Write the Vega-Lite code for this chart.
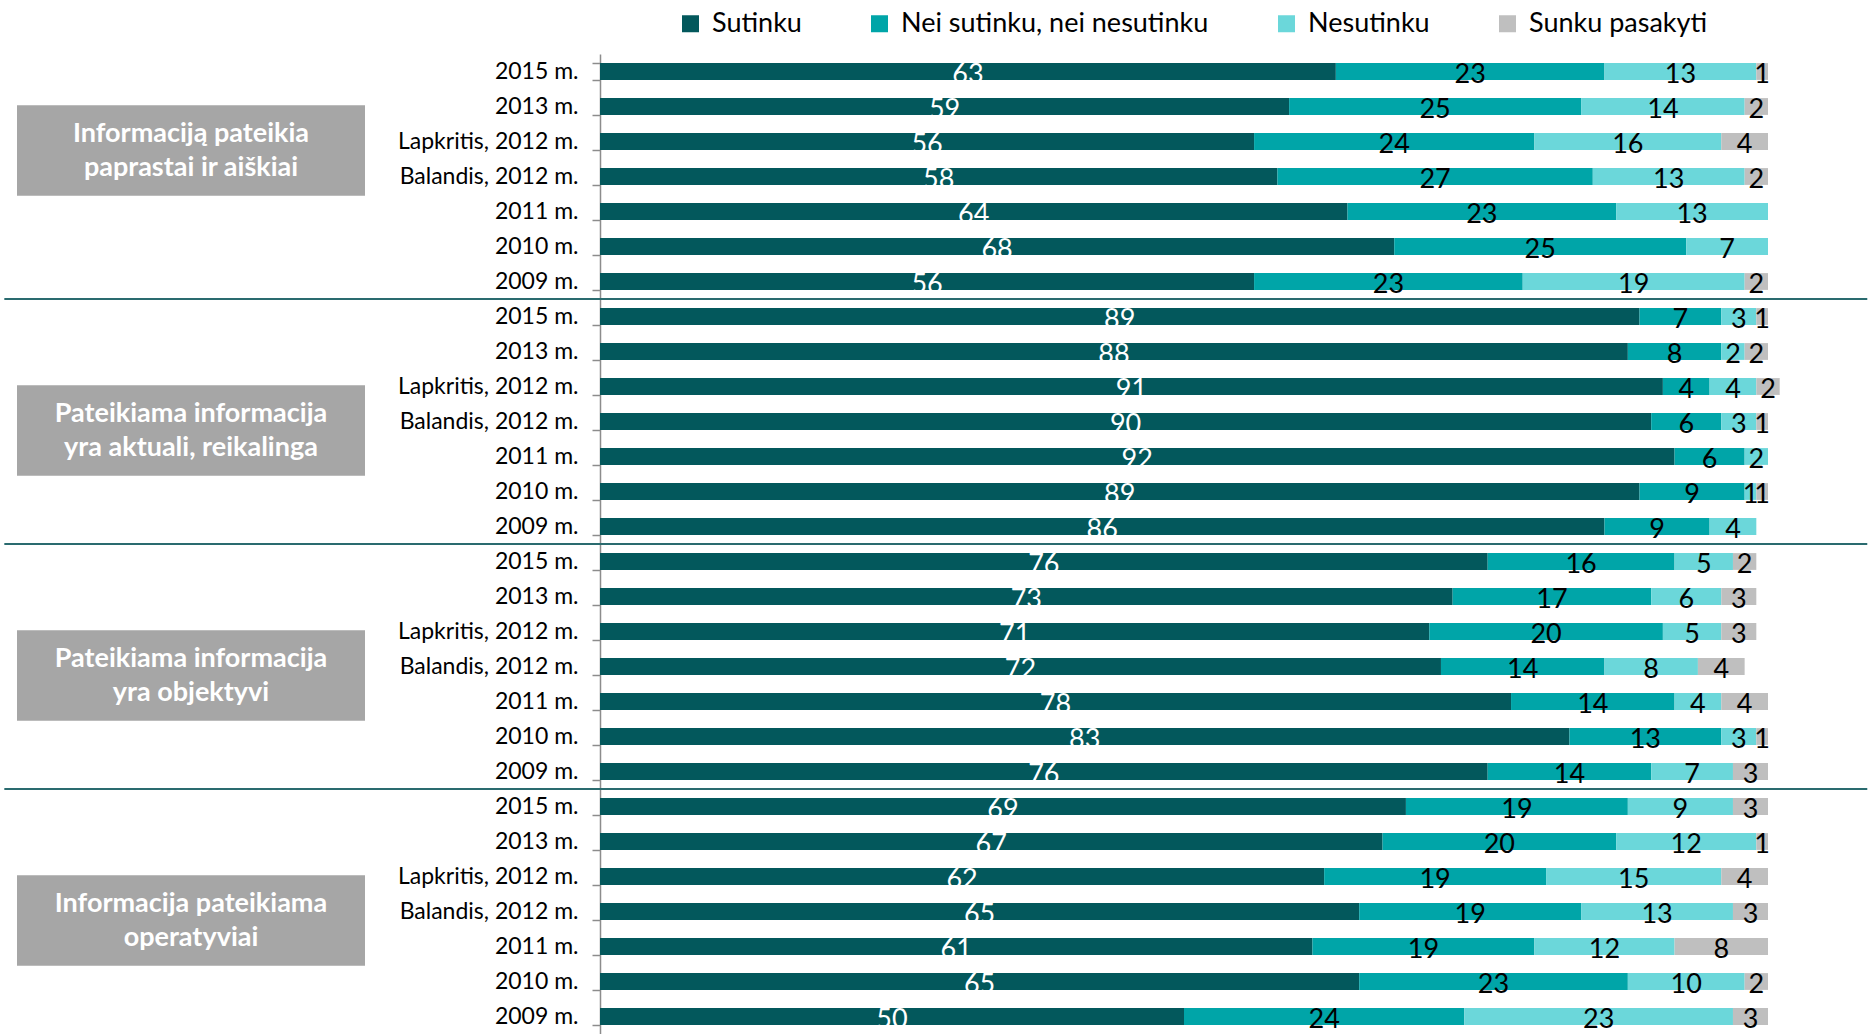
{
  "$schema": "https://vega.github.io/schema/vega-lite/v6.json",
  "padding": {"left": 3, "top": 10, "right": 0, "bottom": 0},
  "bounds": "flush",
  "spacing": 235,
  "config": {"font": "Lato", "view": {"stroke": null}},
  "resolve": {"scale": {"y": "independent", "color": "independent"}, "legend": {"color": "independent"}},
  "datasets": {
    "cats": [
      {"cat": "Sutinku", "k": 1},
      {"cat": "Nei sutinku, nei nesutinku", "k": 2},
      {"cat": "Nesutinku", "k": 3},
      {"cat": "Sunku pasakyti", "k": 4}
    ],
    "rows": [
      {"row": "1|2015 m.", "cat": "Sutinku", "v": 63}, {"row": "1|2015 m.", "cat": "Nei sutinku, nei nesutinku", "v": 23}, {"row": "1|2015 m.", "cat": "Nesutinku", "v": 13}, {"row": "1|2015 m.", "cat": "Sunku pasakyti", "v": 1},
      {"row": "1|2013 m.", "cat": "Sutinku", "v": 59}, {"row": "1|2013 m.", "cat": "Nei sutinku, nei nesutinku", "v": 25}, {"row": "1|2013 m.", "cat": "Nesutinku", "v": 14}, {"row": "1|2013 m.", "cat": "Sunku pasakyti", "v": 2},
      {"row": "1|Lapkritis, 2012 m.", "cat": "Sutinku", "v": 56}, {"row": "1|Lapkritis, 2012 m.", "cat": "Nei sutinku, nei nesutinku", "v": 24}, {"row": "1|Lapkritis, 2012 m.", "cat": "Nesutinku", "v": 16}, {"row": "1|Lapkritis, 2012 m.", "cat": "Sunku pasakyti", "v": 4},
      {"row": "1|Balandis, 2012 m.", "cat": "Sutinku", "v": 58}, {"row": "1|Balandis, 2012 m.", "cat": "Nei sutinku, nei nesutinku", "v": 27}, {"row": "1|Balandis, 2012 m.", "cat": "Nesutinku", "v": 13}, {"row": "1|Balandis, 2012 m.", "cat": "Sunku pasakyti", "v": 2},
      {"row": "1|2011 m.", "cat": "Sutinku", "v": 64}, {"row": "1|2011 m.", "cat": "Nei sutinku, nei nesutinku", "v": 23}, {"row": "1|2011 m.", "cat": "Nesutinku", "v": 13},
      {"row": "1|2010 m.", "cat": "Sutinku", "v": 68}, {"row": "1|2010 m.", "cat": "Nei sutinku, nei nesutinku", "v": 25}, {"row": "1|2010 m.", "cat": "Nesutinku", "v": 7},
      {"row": "1|2009 m.", "cat": "Sutinku", "v": 56}, {"row": "1|2009 m.", "cat": "Nei sutinku, nei nesutinku", "v": 23}, {"row": "1|2009 m.", "cat": "Nesutinku", "v": 19}, {"row": "1|2009 m.", "cat": "Sunku pasakyti", "v": 2},

      {"row": "2|2015 m.", "cat": "Sutinku", "v": 89}, {"row": "2|2015 m.", "cat": "Nei sutinku, nei nesutinku", "v": 7}, {"row": "2|2015 m.", "cat": "Nesutinku", "v": 3}, {"row": "2|2015 m.", "cat": "Sunku pasakyti", "v": 1},
      {"row": "2|2013 m.", "cat": "Sutinku", "v": 88}, {"row": "2|2013 m.", "cat": "Nei sutinku, nei nesutinku", "v": 8}, {"row": "2|2013 m.", "cat": "Nesutinku", "v": 2}, {"row": "2|2013 m.", "cat": "Sunku pasakyti", "v": 2},
      {"row": "2|Lapkritis, 2012 m.", "cat": "Sutinku", "v": 91}, {"row": "2|Lapkritis, 2012 m.", "cat": "Nei sutinku, nei nesutinku", "v": 4}, {"row": "2|Lapkritis, 2012 m.", "cat": "Nesutinku", "v": 4}, {"row": "2|Lapkritis, 2012 m.", "cat": "Sunku pasakyti", "v": 2},
      {"row": "2|Balandis, 2012 m.", "cat": "Sutinku", "v": 90}, {"row": "2|Balandis, 2012 m.", "cat": "Nei sutinku, nei nesutinku", "v": 6}, {"row": "2|Balandis, 2012 m.", "cat": "Nesutinku", "v": 3}, {"row": "2|Balandis, 2012 m.", "cat": "Sunku pasakyti", "v": 1},
      {"row": "2|2011 m.", "cat": "Sutinku", "v": 92}, {"row": "2|2011 m.", "cat": "Nei sutinku, nei nesutinku", "v": 6}, {"row": "2|2011 m.", "cat": "Nesutinku", "v": 2},
      {"row": "2|2010 m.", "cat": "Sutinku", "v": 89}, {"row": "2|2010 m.", "cat": "Nei sutinku, nei nesutinku", "v": 9}, {"row": "2|2010 m.", "cat": "Nesutinku", "v": 1}, {"row": "2|2010 m.", "cat": "Sunku pasakyti", "v": 1},
      {"row": "2|2009 m.", "cat": "Sutinku", "v": 86}, {"row": "2|2009 m.", "cat": "Nei sutinku, nei nesutinku", "v": 9}, {"row": "2|2009 m.", "cat": "Nesutinku", "v": 4},

      {"row": "3|2015 m.", "cat": "Sutinku", "v": 76}, {"row": "3|2015 m.", "cat": "Nei sutinku, nei nesutinku", "v": 16}, {"row": "3|2015 m.", "cat": "Nesutinku", "v": 5}, {"row": "3|2015 m.", "cat": "Sunku pasakyti", "v": 2},
      {"row": "3|2013 m.", "cat": "Sutinku", "v": 73}, {"row": "3|2013 m.", "cat": "Nei sutinku, nei nesutinku", "v": 17}, {"row": "3|2013 m.", "cat": "Nesutinku", "v": 6}, {"row": "3|2013 m.", "cat": "Sunku pasakyti", "v": 3},
      {"row": "3|Lapkritis, 2012 m.", "cat": "Sutinku", "v": 71}, {"row": "3|Lapkritis, 2012 m.", "cat": "Nei sutinku, nei nesutinku", "v": 20}, {"row": "3|Lapkritis, 2012 m.", "cat": "Nesutinku", "v": 5}, {"row": "3|Lapkritis, 2012 m.", "cat": "Sunku pasakyti", "v": 3},
      {"row": "3|Balandis, 2012 m.", "cat": "Sutinku", "v": 72}, {"row": "3|Balandis, 2012 m.", "cat": "Nei sutinku, nei nesutinku", "v": 14}, {"row": "3|Balandis, 2012 m.", "cat": "Nesutinku", "v": 8}, {"row": "3|Balandis, 2012 m.", "cat": "Sunku pasakyti", "v": 4},
      {"row": "3|2011 m.", "cat": "Sutinku", "v": 78}, {"row": "3|2011 m.", "cat": "Nei sutinku, nei nesutinku", "v": 14}, {"row": "3|2011 m.", "cat": "Nesutinku", "v": 4}, {"row": "3|2011 m.", "cat": "Sunku pasakyti", "v": 4},
      {"row": "3|2010 m.", "cat": "Sutinku", "v": 83}, {"row": "3|2010 m.", "cat": "Nei sutinku, nei nesutinku", "v": 13}, {"row": "3|2010 m.", "cat": "Nesutinku", "v": 3}, {"row": "3|2010 m.", "cat": "Sunku pasakyti", "v": 1},
      {"row": "3|2009 m.", "cat": "Sutinku", "v": 76}, {"row": "3|2009 m.", "cat": "Nei sutinku, nei nesutinku", "v": 14}, {"row": "3|2009 m.", "cat": "Nesutinku", "v": 7}, {"row": "3|2009 m.", "cat": "Sunku pasakyti", "v": 3},

      {"row": "4|2015 m.", "cat": "Sutinku", "v": 69}, {"row": "4|2015 m.", "cat": "Nei sutinku, nei nesutinku", "v": 19}, {"row": "4|2015 m.", "cat": "Nesutinku", "v": 9}, {"row": "4|2015 m.", "cat": "Sunku pasakyti", "v": 3},
      {"row": "4|2013 m.", "cat": "Sutinku", "v": 67}, {"row": "4|2013 m.", "cat": "Nei sutinku, nei nesutinku", "v": 20}, {"row": "4|2013 m.", "cat": "Nesutinku", "v": 12}, {"row": "4|2013 m.", "cat": "Sunku pasakyti", "v": 1},
      {"row": "4|Lapkritis, 2012 m.", "cat": "Sutinku", "v": 62}, {"row": "4|Lapkritis, 2012 m.", "cat": "Nei sutinku, nei nesutinku", "v": 19}, {"row": "4|Lapkritis, 2012 m.", "cat": "Nesutinku", "v": 15}, {"row": "4|Lapkritis, 2012 m.", "cat": "Sunku pasakyti", "v": 4},
      {"row": "4|Balandis, 2012 m.", "cat": "Sutinku", "v": 65}, {"row": "4|Balandis, 2012 m.", "cat": "Nei sutinku, nei nesutinku", "v": 19}, {"row": "4|Balandis, 2012 m.", "cat": "Nesutinku", "v": 13}, {"row": "4|Balandis, 2012 m.", "cat": "Sunku pasakyti", "v": 3},
      {"row": "4|2011 m.", "cat": "Sutinku", "v": 61}, {"row": "4|2011 m.", "cat": "Nei sutinku, nei nesutinku", "v": 19}, {"row": "4|2011 m.", "cat": "Nesutinku", "v": 12}, {"row": "4|2011 m.", "cat": "Sunku pasakyti", "v": 8},
      {"row": "4|2010 m.", "cat": "Sutinku", "v": 65}, {"row": "4|2010 m.", "cat": "Nei sutinku, nei nesutinku", "v": 23}, {"row": "4|2010 m.", "cat": "Nesutinku", "v": 10}, {"row": "4|2010 m.", "cat": "Sunku pasakyti", "v": 2},
      {"row": "4|2009 m.", "cat": "Sutinku", "v": 50}, {"row": "4|2009 m.", "cat": "Nei sutinku, nei nesutinku", "v": 24}, {"row": "4|2009 m.", "cat": "Nesutinku", "v": 23}, {"row": "4|2009 m.", "cat": "Sunku pasakyti", "v": 3}
    ],
    "groups": [
      {"label": "Informaciją pateikia\npaprastai ir aiškiai", "at": "1|Lapkritis, 2012 m."},
      {"label": "Pateikiama informacija\nyra aktuali, reikalinga", "at": "2|Balandis, 2012 m."},
      {"label": "Pateikiama informacija\nyra objektyvi", "at": "3|Balandis, 2012 m."},
      {"label": "Informacija pateikiama\noperatyviai", "at": "4|Balandis, 2012 m."}
    ],
    "seps": [
      {"row": "2|2015 m."},
      {"row": "3|2015 m."},
      {"row": "4|2015 m."}
    ]
  },
  "hconcat": [
    {
      "width": 348,
      "height": 980,
      "data": {"name": "groups"},
      "layer": [
        {
          "mark": {"type": "bar", "color": "#a6a6a6", "height": {"band": 5.4}, "yOffset": 9},
          "encoding": {
            "y": {"field": "at", "type": "nominal", "axis": null,
                  "scale": {"domain": ["1|2015 m.","1|2013 m.","1|Lapkritis, 2012 m.","1|Balandis, 2012 m.","1|2011 m.","1|2010 m.","1|2009 m.","2|2015 m.","2|2013 m.","2|Lapkritis, 2012 m.","2|Balandis, 2012 m.","2|2011 m.","2|2010 m.","2|2009 m.","3|2015 m.","3|2013 m.","3|Lapkritis, 2012 m.","3|Balandis, 2012 m.","3|2011 m.","3|2010 m.","3|2009 m.","4|2015 m.","4|2013 m.","4|Lapkritis, 2012 m.","4|Balandis, 2012 m.","4|2011 m.","4|2010 m.","4|2009 m."], "paddingInner": 0.52, "paddingOuter": 0.26}},
            "x": {"datum": 0, "type": "quantitative", "scale": {"domain": [0, 1]}, "axis": null},
            "x2": {"datum": 1}
          }
        },
        {
          "mark": {"type": "text", "color": "#ffffff", "fontWeight": "bold", "fontSize": 27, "lineBreak": "\n", "lineHeight": 34, "yOffset": -8, "align": "center", "baseline": "middle"},
          "encoding": {
            "y": {"field": "at", "type": "nominal"},
            "x": {"datum": 0.5, "type": "quantitative"},
            "text": {"field": "label"}
          }
        }
      ]
    },
    {
      "width": 1168,
      "height": 980,
      "data": {"name": "rows"},
      "resolve": {"scale": {"color": "independent"}},
      "layer": [
        {
          "transform": [{"lookup": "cat", "from": {"data": {"name": "cats"}, "key": "cat", "fields": ["k"]}}],
          "mark": {"type": "bar"},
          "encoding": {
            "y": {"field": "row", "type": "nominal",
                  "scale": {"domain": ["1|2015 m.","1|2013 m.","1|Lapkritis, 2012 m.","1|Balandis, 2012 m.","1|2011 m.","1|2010 m.","1|2009 m.","2|2015 m.","2|2013 m.","2|Lapkritis, 2012 m.","2|Balandis, 2012 m.","2|2011 m.","2|2010 m.","2|2009 m.","3|2015 m.","3|2013 m.","3|Lapkritis, 2012 m.","3|Balandis, 2012 m.","3|2011 m.","3|2010 m.","3|2009 m.","4|2015 m.","4|2013 m.","4|Lapkritis, 2012 m.","4|Balandis, 2012 m.","4|2011 m.","4|2010 m.","4|2009 m."], "paddingInner": 0.52, "paddingOuter": 0.26},
                  "axis": {"title": null, "labelExpr": "split(datum.value, '|')[1]", "labelFont": "Lato", "labelFontSize": 23, "labelColor": "#000000", "labelLimit": 400, "labelPadding": 14, "tickBand": "extent", "tickSize": 8, "tickColor": "#8c8c8c", "tickWidth": 1.5, "domainColor": "#8c8c8c", "domainWidth": 1.5}},
            "x": {"field": "v", "type": "quantitative", "stack": "zero", "scale": {"domain": [0, 100]}, "axis": null},
            "order": {"field": "k", "type": "quantitative"},
            "color": {"field": "cat", "type": "nominal",
                      "sort": ["Sutinku", "Nei sutinku, nei nesutinku", "Nesutinku", "Sunku pasakyti"],
                      "scale": {"domain": ["Sutinku", "Nei sutinku, nei nesutinku", "Nesutinku", "Sunku pasakyti"], "range": ["#03585c", "#00a5a8", "#6bd7da", "#bfbfbf"]},
                      "legend": {"orient": "none", "legendX": 77, "legendY": -44, "direction": "horizontal", "columns": 4, "title": null, "symbolType": "square", "symbolSize": 289, "symbolStrokeWidth": 0, "symbolOpacity": 1, "labelFont": "Lato", "labelFontSize": 27, "labelColor": "#000000", "labelOffset": 8, "columnPadding": 64, "labelLimit": 600, "padding": 0}}
          }
        },
        {
          "transform": [{"lookup": "cat", "from": {"data": {"name": "cats"}, "key": "cat", "fields": ["k"]}}],
          "mark": {"type": "text", "align": "center", "baseline": "middle", "fontSize": 27, "dy": 3},
          "encoding": {
            "y": {"field": "row", "type": "nominal"},
            "x": {"field": "v", "type": "quantitative", "stack": "zero", "bandPosition": 0.5},
            "order": {"field": "k", "type": "quantitative"},
            "color": {"field": "cat", "type": "nominal",
                      "sort": ["Sutinku", "Nei sutinku, nei nesutinku", "Nesutinku", "Sunku pasakyti"],
                      "scale": {"domain": ["Sutinku", "Nei sutinku, nei nesutinku", "Nesutinku", "Sunku pasakyti"], "range": ["#ffffff", "#000000", "#000000", "#000000"]},
                      "legend": null},
            "text": {"field": "v", "type": "quantitative"}
          }
        },
        {
          "data": {"name": "seps"},
          "mark": {"type": "rule", "color": "#2a6b6f", "strokeWidth": 2, "yOffset": -9},
          "encoding": {
            "y": {"field": "row", "type": "nominal", "bandPosition": 0},
            "x": {"datum": -51, "type": "quantitative"},
            "x2": {"datum": 108.5}
          }
        }
      ]
    }
  ]
}
